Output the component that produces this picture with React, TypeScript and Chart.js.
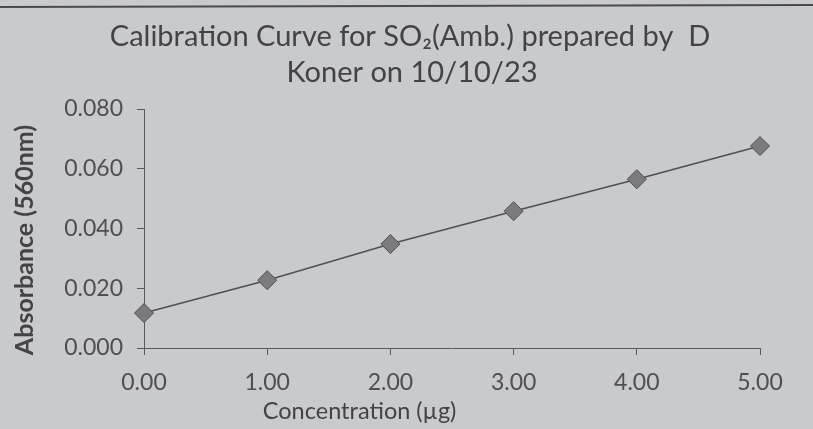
import React, { useEffect, useRef } from "react";
import { Chart, registerables } from "chart.js";

Chart.register(...registerables);

const concentrations = [0, 1, 2, 3, 4, 5];
const absorbance = [0.0117, 0.0227, 0.0348, 0.0458, 0.0565, 0.0676];
const titleLines = ["Calibration Curve for SO\u2082(Amb.) prepared by  D", "Koner on 10/10/23"];
const xTitle = "Concentration (\u00b5g)";
const yTitle = "Absorbance (560nm)";

const FONT = "Lato, 'Open Sans', sans-serif";
const TEXT = "#434345";
const TICK = "#4f4f52";
const AXIS = "#5a5a5c";

const bgPlugin = {
  id: "bg",
  beforeDraw(chart: any) {
    const { ctx, width, height } = chart;
    ctx.save();
    ctx.fillStyle = "#c9cacd";
    ctx.fillRect(0, 0, width, height);
    ctx.strokeStyle = "#4a4a4c";
    ctx.lineWidth = 2;
    ctx.beginPath();
    ctx.moveTo(0, 7);
    ctx.lineTo(width, 5);
    ctx.stroke();
    ctx.restore();
  },
};

const textPlugin = {
  id: "texts",
  afterDraw(chart: any) {
    const { ctx, chartArea } = chart;
    ctx.save();
    ctx.fillStyle = TEXT;
    ctx.textAlign = "center";
    // title
    ctx.textBaseline = "alphabetic";
    ctx.font = `29px ${FONT}`;
    ctx.fillText(titleLines[0], 410, 46);
    ctx.fillText(titleLines[1], 412, 82);
    // x title
    ctx.textBaseline = "middle";
    ctx.font = `23.5px ${FONT}`;
    const x = chartArea.left + (chartArea.right - chartArea.left) * 0.35;
    ctx.fillText(xTitle, x, 411);
    // y title
    ctx.translate(25, 240);
    ctx.rotate(-Math.PI / 2);
    ctx.font = `bold 25px ${FONT}`;
    ctx.fillText(yTitle, 0, 0);
    ctx.restore();
  },
};

export default function App() {
  const ref = useRef<HTMLCanvasElement | null>(null);
  useEffect(() => {
    document.body.style.margin = "0";
    const chart = new Chart(ref.current!, {
      type: "scatter",
      data: {
        datasets: [
          {
            data: concentrations.map((c, i) => ({ x: c, y: absorbance[i] })),
            showLine: true,
            clip: false,
            borderColor: "#505052",
            borderWidth: 1.5,
            pointStyle: "rectRot",
            pointRadius: 9.5,
            pointBackgroundColor: "#7b7b7e",
            pointBorderColor: "#4e4e50",
            pointBorderWidth: 1,
          },
        ],
      },
      options: {
        responsive: false,
        animation: false,
        layout: { padding: { left: 8, right: 53, top: 109, bottom: 0 } },
        plugins: {
          legend: { display: false },
          tooltip: { enabled: false },
          title: { display: false },
        },
        scales: {
          x: {
            type: "linear",
            min: 0,
            max: 5,
            ticks: {
              stepSize: 1,
              color: TICK,
              font: { family: FONT, size: 23 },
              padding: 14,
              callback: (v: any) => Number(v).toFixed(2),
            },
            grid: { drawOnChartArea: false, drawTicks: true, tickLength: 7, color: AXIS },
            border: { display: true, color: AXIS, width: 1 },
            afterFit: (scale: any) => {
              scale.height = 81;
            },
          },
          y: {
            min: 0,
            max: 0.08,
            ticks: {
              stepSize: 0.02,
              color: TICK,
              font: { family: FONT, size: 23 },
              padding: 14,
              callback: (v: any) => Number(v).toFixed(3),
            },
            grid: { drawOnChartArea: false, drawTicks: true, tickLength: 7, color: AXIS },
            border: { display: true, color: AXIS, width: 1 },
            afterFit: (scale: any) => {
              scale.width = 136;
            },
          },
        },
      },
      plugins: [bgPlugin, textPlugin],
    } as any);
    return () => chart.destroy();
  }, []);
  return (
    <div style={{ width: 813, height: 429 }}>
      <canvas ref={ref} width={813} height={429} />
    </div>
  );
}
